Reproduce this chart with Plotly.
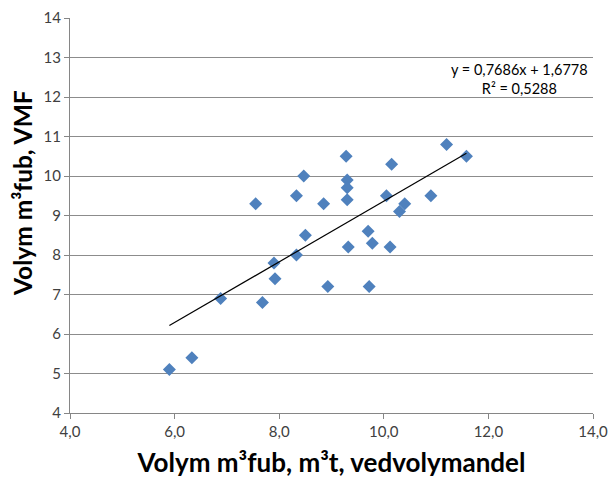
import plotly.graph_objects as go

# Volume per measured load: vedvolymandel (x) vs VMF (y), m3fub
x_vals = [8.47, 7.55, 8.33, 8.85, 8.50, 8.33, 7.90, 7.92, 8.93, 6.88, 7.68,
          5.90, 6.33,
          9.28, 9.30, 9.30, 9.30, 10.15, 11.20, 11.58, 10.05, 10.40, 10.30,
          10.90, 9.70, 9.78, 9.32, 10.12, 9.72]
y_vals = [10.0, 9.3, 9.5, 9.3, 8.5, 8.0, 7.8, 7.4, 7.2, 6.9, 6.8,
          5.1, 5.4,
          10.5, 9.9, 9.7, 9.4, 10.3, 10.8, 10.5, 9.5, 9.3, 9.1,
          9.5, 8.6, 8.3, 8.2, 8.2, 7.2]

# Linear trendline coefficients
slope = 0.7686
intercept = 1.6778
r_squared = 0.5288

x_ticks = [4, 6, 8, 10, 12, 14]
y_ticks = list(range(4, 15))

x_title = "Volym m³fub, m³t, vedvolymandel"
y_title = "Volym m³fub, VMF"

trend_x = [min(x_vals), max(x_vals)]
trend_y = [slope * v + intercept for v in trend_x]


def dec(v):
    return f"{v:.4f}".replace(".", ",")


fig = go.Figure()
fig.add_trace(go.Scatter(
    x=x_vals, y=y_vals, mode="markers",
    marker=dict(symbol="diamond", size=10, color="#4F81BD",
                line=dict(width=0)),
    showlegend=False,
))
fig.add_trace(go.Scatter(
    x=trend_x, y=trend_y, mode="lines",
    line=dict(color="black", width=1.2),
    showlegend=False,
))

# trendline equation box
fig.add_annotation(
    x=13.94, xref="x", y=12.46, yref="y",
    text=f"y = {dec(slope)}x + {dec(intercept)}<br>R² = {dec(r_squared)}",
    showarrow=False, xanchor="right", yanchor="middle", align="center",
    font=dict(family="Lato", size=14.5, color="black"),
)

# vertical axis title, set slightly above the plot centre
fig.add_annotation(
    x=0, xref="paper", y=0.557, yref="paper",
    xshift=-47, text=f"<b>{y_title}</b>", textangle=-90,
    showarrow=False, xanchor="center", yanchor="middle",
    font=dict(family="Lato", size=24.5, color="black"),
)

fig.update_layout(
    width=610, height=480,
    margin=dict(l=70, r=17, t=18, b=67),
    paper_bgcolor="white", plot_bgcolor="white",
    separators=",.",
    font=dict(family="Lato", size=15, color="#404040"),
    xaxis=dict(
        range=[4, 14], tickvals=x_ticks, tickformat=".1f",
        showgrid=False, zeroline=False, automargin=False,
        showline=True, linecolor="#868686", linewidth=1,
        ticks="outside", ticklen=5, tickcolor="#868686",
        tickfont=dict(size=15, color="#404040"),
        title=dict(text=f"<b>{x_title}</b>",
                   font=dict(size=26, color="black"), standoff=14),
    ),
    yaxis=dict(
        range=[4, 14], tickvals=y_ticks,
        showgrid=True, gridcolor="#8C8C8C", gridwidth=1,
        zeroline=False, automargin=False,
        showline=True, linecolor="#868686", linewidth=1,
        ticks="outside", ticklen=5, tickcolor="#868686",
        tickfont=dict(size=15, color="#404040"),
    ),
)

fig.write_html("out.html")
